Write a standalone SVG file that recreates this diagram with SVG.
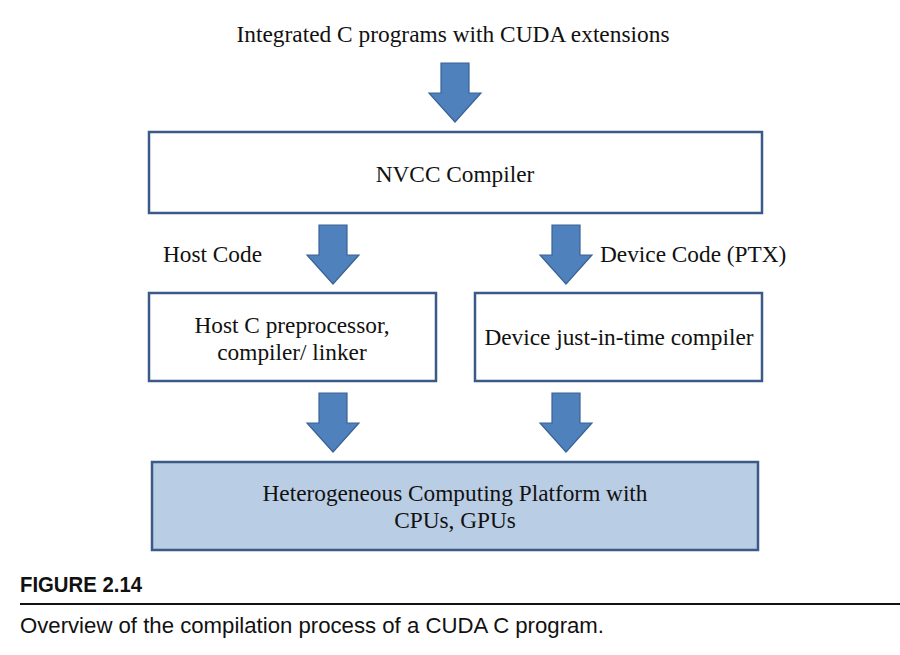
<svg xmlns="http://www.w3.org/2000/svg" width="900" height="655" viewBox="0 0 900 655">
<defs>
<style>
.t{font-family:"Liberation Serif","Times New Roman",serif;font-size:23.3px;fill:#111;}
.box{fill:#fff;stroke:#3a5a87;stroke-width:2.5;}
.boxb{fill:#b9cde5;stroke:#3a5a87;stroke-width:2.5;}
.arr{fill:#4f81bd;stroke:#3a6395;stroke-width:1.2;}
.cap{font-family:"Liberation Sans Narrow","Liberation Sans",Arial,sans-serif;fill:#111;}
</style>
<path id="arrow" d="M-14,0 H14 V30 H26 L0,59 L-26,30 H-14 Z"/>
</defs>
<rect width="900" height="655" fill="#fff"/>
<g id="top-label"><text class="t" x="453" y="42" text-anchor="middle" textLength="433" lengthAdjust="spacingAndGlyphs">Integrated C programs with CUDA extensions</text></g>
<g id="connectors">
<use href="#arrow" class="arr" x="455" y="63"/>
<use href="#arrow" class="arr" x="333" y="225"/>
<use href="#arrow" class="arr" x="566" y="225"/>
<use href="#arrow" class="arr" x="333" y="393"/>
<use href="#arrow" class="arr" x="566" y="393"/>
</g>
<g id="nvcc"><rect class="box" x="149" y="132" width="613" height="81"/><text class="t" x="455" y="182" text-anchor="middle">NVCC Compiler</text></g>
<g id="host-code-label"><text class="t" x="163" y="262">Host Code</text></g>
<g id="device-code-label"><text class="t" x="600" y="262">Device Code (PTX)</text></g>
<g id="host"><rect class="box" x="149" y="293" width="287" height="88"/><text class="t" x="292" y="333" text-anchor="middle">Host C preprocessor,</text><text class="t" x="292" y="360" text-anchor="middle">compiler/ linker</text></g>
<g id="device"><rect class="box" x="475" y="293" width="287" height="88"/><text class="t" x="619" y="345" text-anchor="middle">Device just-in-time compiler</text></g>
<g id="platform"><rect class="boxb" x="152" y="462" width="606" height="88"/><text class="t" x="455" y="501" text-anchor="middle">Heterogeneous Computing Platform with</text><text class="t" x="455" y="528" text-anchor="middle">CPUs, GPUs</text></g>
<g id="caption">
<text class="cap" x="20" y="592" font-size="22" font-weight="bold" textLength="122" lengthAdjust="spacingAndGlyphs">FIGURE 2.14</text>
<rect x="20" y="603" width="880" height="2" fill="#111"/>
<text class="cap" x="20" y="633" font-size="22" textLength="584" lengthAdjust="spacingAndGlyphs">Overview of the compilation process of a CUDA C program.</text>
</g>
</svg>
